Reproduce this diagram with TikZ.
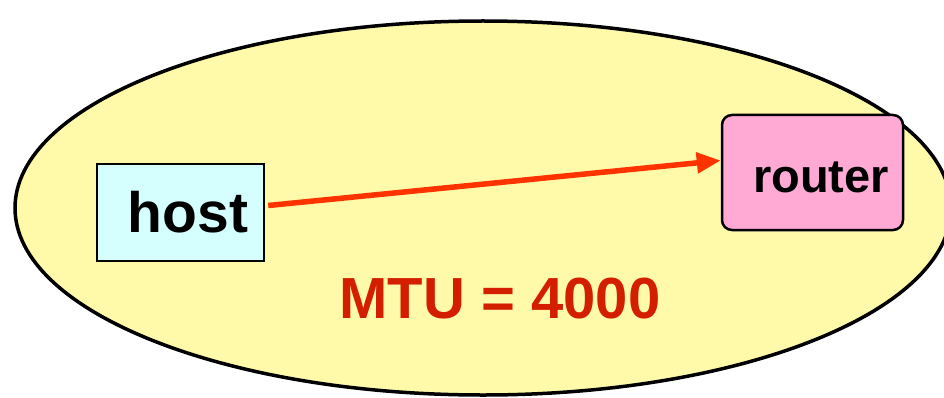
\documentclass[tikz,border=0pt]{standalone}
\usepackage{fontspec}
\setmainfont{Liberation Sans}
\usepackage{xcolor}
\usepackage{tikz}
\usetikzlibrary{arrows.meta, positioning}

\definecolor{netfill}{HTML}{FFFAAA}
\definecolor{hostfill}{HTML}{D5FFFF}
\definecolor{routerfill}{HTML}{FFAAD5}
\definecolor{linkred}{HTML}{FF3300}
\definecolor{mtured}{HTML}{D41E00}

\begin{document}
\begin{tikzpicture}[x=1pt, y=1pt,
        hostbox/.style={draw, line width=2.5pt, fill=hostfill, minimum width=167pt, minimum height=97pt, inner sep=0pt, font=\fontsize{57}{60}\selectfont\bfseries},
        routerbox/.style={draw, line width=2.5pt, fill=routerfill, rounded corners=10pt, minimum width=181pt, minimum height=115pt, inner sep=0pt, text height=40pt, text depth=0pt, font=\fontsize{47}{50}\selectfont\bfseries},
        link/.style={draw=linkred, line width=5.5pt, -{Triangle[length=24pt, width=20pt]}}]

        \clip (0,0) rectangle (944,397);

        \draw[fill=netfill, line width=3.5pt] (483,189) ellipse [x radius=468, y radius=187];

        \node[hostbox] (host) at (180.5,184.5) {\hspace*{15pt}host};
        \node[routerbox] (router) at (812.5,224.5) {\hspace*{17pt}router};

        \node[text=mtured, font=\fontsize{58}{60}\selectfont\bfseries] (mtu) at (500,98) {MTU = 4000};

        \draw[link] ([shift={(3pt,7pt)}]host.east) -- ([yshift=12pt]router.west);
    \end{tikzpicture}
\end{document}
